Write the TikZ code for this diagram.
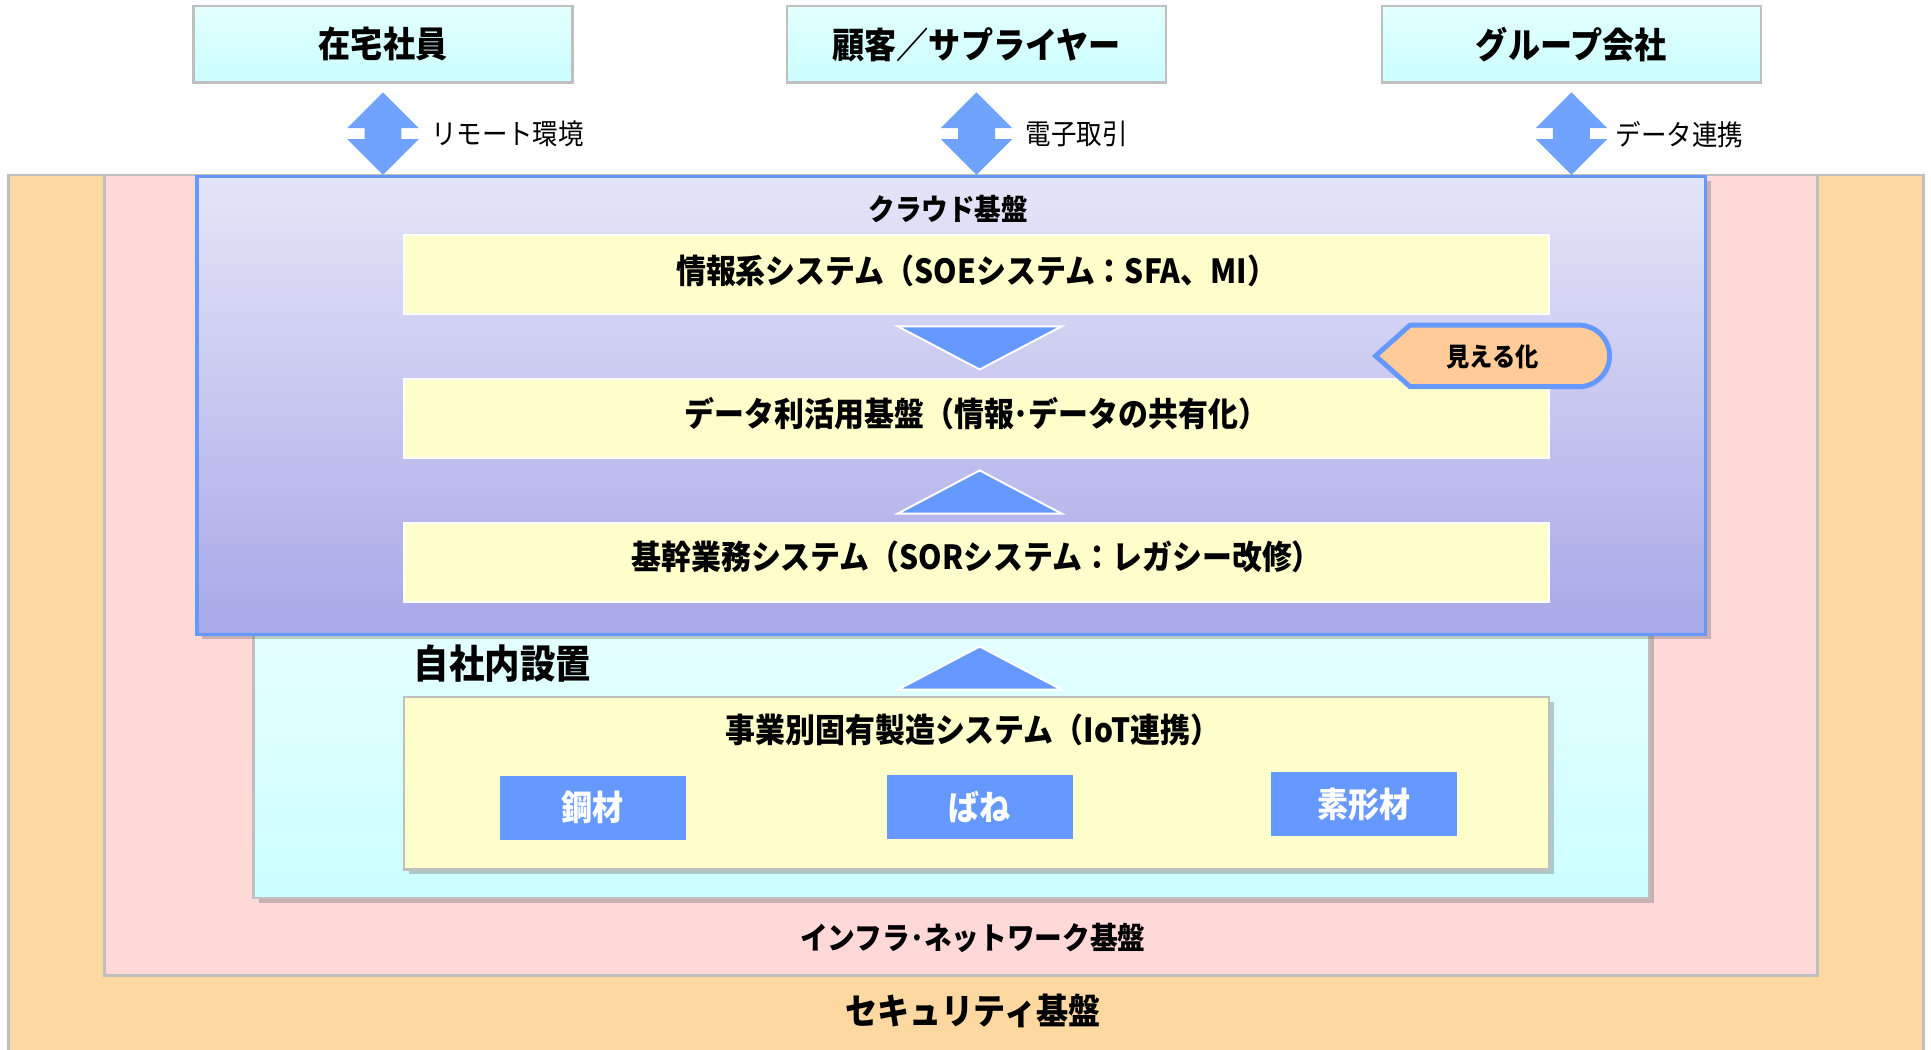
\documentclass[tikz,border=0pt]{standalone}
\usepackage{fontspec}
\setmainfont{Noto Sans CJK JP}[FakeStretch=0.9]
\usetikzlibrary{shadows,calc}
\definecolor{topTop}{RGB}{226,255,255}
\definecolor{topBot}{RGB}{204,255,255}
\definecolor{arrowblue}{RGB}{112,163,255}
\definecolor{triblue}{RGB}{102,153,255}
\definecolor{secfill}{RGB}{253,217,161}
\definecolor{netfill}{RGB}{255,216,216}
\definecolor{cloudTop}{RGB}{229,229,248}
\definecolor{cloudBot}{RGB}{168,168,232}
\definecolor{cloudline}{RGB}{102,153,255}
\definecolor{yfill}{RGB}{255,255,204}
\definecolor{mieru}{RGB}{255,204,153}
\definecolor{frameline}{RGB}{191,191,191}
\definecolor{onTop}{RGB}{230,255,255}
\definecolor{onBot}{RGB}{204,255,255}
\begin{document}
\begin{tikzpicture}[x=0.5pt,y=-0.5pt,
  every node/.style={inner sep=0pt, outer sep=0pt},
  sz/.style 2 args={minimum width=#1*0.5pt, minimum height=#2*0.5pt},
  topbox/.style={draw=frameline, line width=1pt, top color=topTop, bottom color=topBot, font=\bfseries\fontsize{14.5}{16}\selectfont},
  conlbl/.style={anchor=west, font=\fontsize{11.5}{13}\selectfont},
  ybox/.style={fill=yfill, draw=white, line width=0.8pt, sz={930}{64}},
  ytext/.style={font=\bfseries\fontsize{13.5}{15}\selectfont},
  bbox/.style={fill=triblue, sz={151}{52}, text=white, font=\bfseries\fontsize{14}{15}\selectfont},
  tri/.style={fill=triblue, draw=white, line width=0.8pt},
  dbl/.style={fill=arrowblue},
  shadow/.style={drop shadow={shadow xshift=2pt, shadow yshift=-2pt, opacity=0.35, fill=black!60}}
]
\useasboundingbox (0,0) rectangle (1568,852);

% outer frames
\node[fill=secfill, draw=frameline, line width=1pt, sz={1555}{760}, anchor=north west] (sec) at (7,142) {};
\node[fill=netfill, draw=frameline, line width=1pt, sz={1391}{650}, anchor=north west] (net) at (85,142) {};
\node[shadow, top color=onTop, bottom color=onBot, draw=frameline, line width=1pt, sz={1133}{229}, anchor=north west] (onprem) at (206,500) {};
\node[shadow, top color=cloudTop, bottom color=cloudBot, draw=cloudline, line width=1.3pt, sz={1225}{372}, anchor=north west] (cloud) at (160,143) {};

% top boxes
\node[topbox, sz={308}{62}] (zaitaku) at (311,36) {在宅社員};
\node[topbox, sz={308}{62}] (kokyaku) at (793,36) {顧客／サプライヤー};
\node[topbox, sz={308}{62}] (group) at (1276,36) {グループ会社};

% double arrows
\foreach \n in {zaitaku,kokyaku,group}{
  \begin{scope}[shift={(\n.south)}]
    \fill[dbl] (0,8) -- (29,37) -- (15,37) -- (15,46) -- (29,46) -- (0,75) -- (-29,46) -- (-15,46) -- (-15,37) -- (-29,37) -- cycle;
  \end{scope}
}
\node[conlbl] (l1) at (350,109) {リモート環境};
\node[conlbl] (l2) at (833,109) {電子取引};
\node[conlbl] (l3) at (1312,109) {データ連携};

% cloud content
\node[font=\bfseries\fontsize{12}{14}\selectfont] (cloudlbl) at (770,170) {クラウド基盤};
\node[ybox] (soe) at (793,223) {};
\node[ybox] (data) at (793,339.5) {};
\node[ybox] (sor) at (793,456.5) {};
\node[ytext] (soet) at ($(soe.center)+(0,-3)$) {情報系システム（SOEシステム：SFA、MI）};
\node[ytext] (datat) at ($(data.center)+(0,-3.5)$) {データ利活用基盤（情報･データの共有化）};
\node[ytext] (sort) at ($(sor.center)+(0,-4)$) {基幹業務システム（SORシステム：レガシー改修）};

\draw[tri] (729,265) -- (862,265) -- (795.5,300) -- cycle;
\draw[tri] (729,417) -- (862,417) -- (795.5,382) -- cycle;

% mieru-ka
\draw[fill=mieru, draw=cloudline, line width=2pt] (1117,289) -- (1145,264) -- (1282,264) arc (-90:90:25) -- (1145,314) -- cycle;
\node[font=\bfseries\fontsize{10.5}{12}\selectfont] (mieruka) at (1212,289.5) {見える化};

% on-premise content
\node[anchor=west, font=\bfseries\fontsize{16}{18}\selectfont] (onlbl) at (336,539) {自社内設置};
\draw[tri] (729,560) -- (862,560) -- (795.5,525) -- cycle;
\node[shadow, fill=yfill, draw=frameline, line width=1pt, sz={930}{140}, anchor=north west] (mfg) at (328,566) {};
\node[font=\bfseries\fontsize{13.5}{15}\selectfont] (mfglbl) at (790,593) {事業別固有製造システム（IoT連携）};
\node[bbox] (kozai) at (481.5,656) {鋼材};
\node[bbox] (bane) at (795.5,655) {ばね};
\node[bbox] (sokei) at (1107.5,653) {素形材};

% bottom labels
\node[font=\bfseries\fontsize{12.5}{14}\selectfont] (netlbl) at (790,762) {インフラ･ネットワーク基盤};
\node[font=\bfseries\fontsize{14.5}{17}\selectfont] (seclbl) at (790,821) {セキュリティ基盤};
\end{tikzpicture}
\end{document}
